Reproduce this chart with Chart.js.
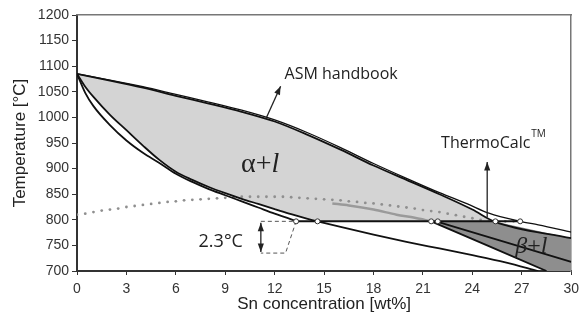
<!DOCTYPE html>
<html>
<head>
<meta charset="utf-8">
<script src="https://cdn.jsdelivr.net/npm/chart.js@4"></script>
<style>
  html, body { margin: 0; padding: 0; background: #fff; }
  #wrap { width: 585px; height: 325px; }
</style>
</head>
<body>
<div id="wrap"><canvas id="phaseChart"></canvas></div>
<script>
// axis ticks
const xTicks = [0, 3, 6, 9, 12, 15, 18, 21, 24, 27, 30];
const yTicks = [700, 750, 800, 850, 900, 950, 1000, 1050, 1100, 1150, 1200];

// liquidus, ASM handbook
const liqAsmX = [0, 2, 4, 6, 8, 10, 12, 14, 16, 18, 20, 22, 24, 25.3, 30];
const liqAsmT = [1085, 1072, 1058, 1042, 1027, 1011, 992, 966, 937, 906, 878, 850, 820, 797, 764];

// liquidus, ThermoCalc
const liqTcX = [0, 2, 4, 6, 8, 10, 12, 14, 16, 18, 20, 22, 23.7, 25, 26.9, 28, 30];
const liqTcT = [1085, 1073, 1060, 1045, 1030, 1014, 995, 970, 941, 910, 881, 853, 831, 813, 797, 790, 776];

// solidus (upper), continues below the peritectic
const solAX = [0, 0.5, 1, 2, 3, 4, 5, 6, 7, 8, 9, 10, 11, 12, 13, 14, 14.6, 16, 18, 20, 22, 24, 26, 28];
const solAT = [1085, 1060, 1040, 1005, 975, 945, 917, 894, 878, 864, 852, 841, 831, 821, 811, 802, 797, 786, 771, 757, 744, 731, 717, 700];

// solidus (lower)
const solBX = [0, 0.5, 1, 2, 3, 4, 5, 6, 7, 8, 9, 10, 11, 12, 13, 13.3];
const solBT = [1085, 1048, 1022, 985, 955, 931, 911, 890, 874, 860, 848, 836, 824, 812, 801, 797];

// peritectic line
const periX = [13.3, 26.9];
const periT = [797, 797];

// beta + l lines
const betaUpX = [21.8, 30];
const betaUpT = [797, 718];
const betaLowX = [21.5, 28.5];
const betaLowT = [797, 700];

// dotted calculation
const dotX = [0, 0.5, 1, 1.5, 2, 2.5, 3, 3.5, 4, 4.5, 5, 5.5, 6, 6.5, 7, 7.5, 8, 8.5, 9, 9.5, 10, 10.5, 11, 11.5, 12, 12.5, 13, 13.5, 14, 14.5, 15, 15.5, 16, 16.5, 17, 17.5, 18, 18.5, 19, 19.5, 20, 20.5, 21, 21.5, 22, 22.5, 23, 23.5, 24, 24.5, 25, 25.5, 26, 26.5, 27];
const dotT = [810, 812, 815, 818, 820, 822, 825, 827, 829, 831, 833, 835, 836, 838, 839, 840, 841, 842, 843, 844, 845, 845, 845, 845, 845, 845, 844, 843, 842, 841, 840, 839, 838, 836, 835, 833, 832, 830, 828, 826, 824, 822, 819, 817, 815, 812, 809, 806, 803, 800, 797, 797, 797, 797, 797];

// gray solid line
const grayX = [15.5, 16.5, 18, 19.4, 20.5, 21.5];
const grayT = [832, 828, 820, 810, 804, 797];

// open circles on the peritectic
const ringX = [13.3, 14.6, 21.5, 21.9, 25.4, 26.9];
const ringT = [797, 797, 797, 797, 797, 797];

// 2.3°C inset
const insetX = [11.16, 13.3, 12.66, 11.16];
const insetT = [797, 797, 735, 735];

const pts = (xs, ys) => xs.map((v, i) => ({ x: v, y: ys[i] }));

// region outlines
const alphaPoly = pts(
  solAX.slice(0, 17).concat([25.3], liqAsmX.slice(0, 14).reverse()),
  solAT.slice(0, 17).concat([797], liqAsmT.slice(0, 14).reverse())
);
const betaPoly = pts([21.5, 25.3, 30, 30, 28.5], [797, 797, 764, 700, 700]);

const line = (data, extra) => Object.assign({
  data: data, showLine: true, pointRadius: 0, borderColor: '#111',
  borderWidth: 1.8, fill: false, cubicInterpolationMode: 'monotone'
}, extra);

function arrow(ctx, x1, y1, x2, y2, both) {
  const head = (ax, ay, bx, by) => {
    const a = Math.atan2(by - ay, bx - ax);
    ctx.beginPath();
    ctx.moveTo(bx, by);
    ctx.lineTo(bx - 9 * Math.cos(a - 0.35), by - 9 * Math.sin(a - 0.35));
    ctx.lineTo(bx - 9 * Math.cos(a + 0.35), by - 9 * Math.sin(a + 0.35));
    ctx.closePath();
    ctx.fill();
  };
  ctx.beginPath();
  ctx.moveTo(x1, y1);
  ctx.lineTo(x2, y2);
  ctx.stroke();
  head(x1, y1, x2, y2);
  if (both) head(x2, y2, x1, y1);
}

const notes = {
  id: 'notes',
  afterDatasetsDraw(chart) {
    const { ctx, scales: { x, y } } = chart;
    const px = v => x.getPixelForValue(v);
    const py = v => y.getPixelForValue(v);
    ctx.save();
    ctx.strokeStyle = '#222';
    ctx.fillStyle = '#222';
    ctx.lineWidth = 1.3;
    arrow(ctx, px(11.46), py(997), px(12.36), py(1061));
    arrow(ctx, px(24.9), py(805), px(24.9), py(913));
    arrow(ctx, px(11.16), py(737), px(11.16), py(794), true);

    ctx.textBaseline = 'middle';
    ctx.textAlign = 'left';
    ctx.font = '16px "Open Sans"';
    ctx.fillText('ASM handbook', px(12.6), py(1083));
    ctx.fillText('ThermoCalc', px(22.1), py(950));
    const w = ctx.measureText('ThermoCalc').width;
    ctx.font = '10px "Open Sans"';
    ctx.fillText('TM', px(22.1) + w + 1, py(950) - 9);
    ctx.font = '18px "Open Sans"';
    ctx.fillText('2.3\u00B0C', px(7.38), py(757));

    ctx.font = '28px "Liberation Serif"';
    ctx.fillText('\u03B1+', px(9.96), py(907));
    const wa = ctx.measureText('\u03B1+').width;
    ctx.font = 'italic 28px "Liberation Serif"';
    ctx.fillText('l', px(9.96) + wa, py(907));

    ctx.font = 'italic 24px "Liberation Serif"';
    ctx.fillText('\u03B2', px(26.6), py(747));
    const wb = ctx.measureText('\u03B2').width;
    ctx.font = '24px "Liberation Serif"';
    ctx.fillText('+', px(26.6) + wb, py(747));
    const wp = ctx.measureText('+').width;
    ctx.font = 'italic 24px "Liberation Serif"';
    ctx.fillText('l', px(26.6) + wb + wp, py(747));
    ctx.restore();
  }
};

new Chart(document.getElementById('phaseChart'), {
  type: 'scatter',
  data: {
    datasets: [
      { data: pts(ringX, ringT), pointRadius: 2.5,
        pointBackgroundColor: '#fff', pointBorderColor: '#333', pointBorderWidth: 1, order: 0 },
      line(pts(insetX, insetT), { borderColor: '#555', borderWidth: 1, borderDash: [4, 3],
        cubicInterpolationMode: 'default', tension: 0, order: 1 }),
      line(pts(periX, periT), { borderWidth: 2, order: 2 }),
      line(pts(liqAsmX, liqAsmT), { order: 3 }),
      line(pts(liqTcX, liqTcT), { borderWidth: 1.3, order: 3 }),
      line(pts(solAX, solAT), { order: 3 }),
      line(pts(solBX, solBT), { order: 3 }),
      line(pts(betaUpX, betaUpT), { order: 3 }),
      line(pts(betaLowX, betaLowT), { order: 3 }),
      { data: pts(dotX, dotT), pointRadius: 1.4, pointBackgroundColor: '#8f8f8f',
        pointBorderWidth: 0, order: 4 },
      line(pts(grayX, grayT), { borderColor: '#9a9a9a', borderWidth: 2.5, order: 4 }),
      line(betaPoly, { borderWidth: 0, borderColor: 'rgba(0,0,0,0)', backgroundColor: '#8e8e8e',
        fill: 'shape', cubicInterpolationMode: 'default', tension: 0, order: 9 }),
      line(alphaPoly, { borderWidth: 0, borderColor: 'rgba(0,0,0,0)', backgroundColor: '#d4d4d4',
        fill: 'shape', cubicInterpolationMode: 'default', tension: 0, order: 10 })
    ]
  },
  options: {
    responsive: true,
    maintainAspectRatio: false,
    animation: false,
    layout: { padding: { top: 15, right: 8, left: 0, bottom: 0 } },
    plugins: { legend: { display: false }, tooltip: { enabled: false } },
    scales: {
      x: {
        type: 'linear', min: 0, max: 30,
        afterBuildTicks: s => { s.ticks = xTicks.map(v => ({ value: v })); },
        afterFit: s => { s.height = 54; },
        grid: { drawOnChartArea: false, tickLength: 4, color: '#333' },
        border: { color: '#333', width: 2 },
        ticks: { color: '#333', font: { family: 'Liberation Sans', size: 14 }, padding: 6,
          callback: v => String(v) },
        title: { display: true, text: 'Sn concentration [wt%]', color: '#222',
          font: { family: 'Liberation Sans', size: 17 }, padding: { top: 2, bottom: 10 } }
      },
      y: {
        type: 'linear', min: 700, max: 1200,
        afterBuildTicks: s => { s.ticks = yTicks.map(v => ({ value: v })); },
        afterFit: s => { s.width = 77; },
        grid: { drawOnChartArea: false, tickLength: 5, color: '#333' },
        border: { color: '#333', width: 2 },
        ticks: { color: '#333', font: { family: 'Liberation Sans', size: 14 }, padding: 3,
          callback: v => String(v) },
        title: { display: true, text: 'Temperature [\u00B0C]', color: '#222',
          font: { family: 'Liberation Sans', size: 17 }, padding: { top: 10, bottom: 0 } }
      },
      x2: {
        type: 'linear', position: 'top', min: 0, max: 30,
        afterFit: s => { s.height = 0; },
        grid: { display: false }, ticks: { display: false },
        border: { color: '#777', width: 1.5 }
      },
      y2: {
        type: 'linear', position: 'right', min: 700, max: 1200,
        afterFit: s => { s.width = 0; },
        grid: { display: false }, ticks: { display: false },
        border: { color: '#777', width: 1.5 }
      }
    }
  },
  plugins: [notes]
});
</script>
</body>
</html>
